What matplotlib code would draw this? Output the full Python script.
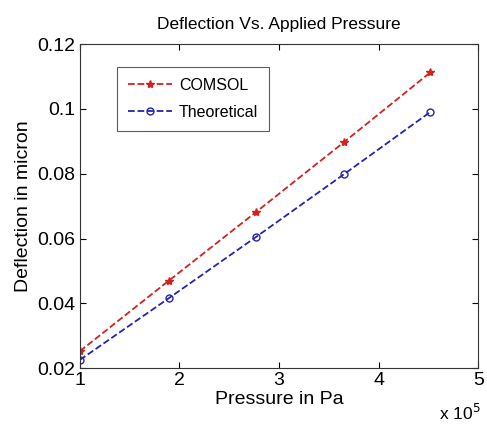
import numpy as np
import matplotlib.pyplot as plt

plt.rcParams['font.family'] = ['Liberation Sans', 'DejaVu Sans']

# pressure (x 1e5 Pa)
pressure = [1.0, 1.89, 2.77, 3.65, 4.52]
comsol = [0.0252, 0.0469, 0.0682, 0.0897, 0.1113]
theoretical = [0.0225, 0.0415, 0.0605, 0.0798, 0.0991]

fig = plt.figure(figsize=(4.87, 4.25), dpi=100)
ax = fig.add_axes([0.164, 0.134, 0.818, 0.762])

ax.plot(pressure, comsol, '--', color='#d62020', marker='*', markersize=6,
        lw=1.3, label='COMSOL')
ax.plot(pressure, theoretical, '--', color='#2424b0', marker='o', markersize=5,
        markerfacecolor='none', lw=1.3, label='Theoretical')

ax.set_xlim(1, 5)
ax.set_ylim(0.02, 0.12)
ax.set_xticks([1, 2, 3, 4, 5])
ax.set_yticks([0.02, 0.04, 0.06, 0.08, 0.1, 0.12])
ax.set_yticklabels(['0.02', '0.04', '0.06', '0.08', '0.1', '0.12'])
ax.tick_params(direction='in', top=True, right=True, labelsize=14, length=4, pad=3)
for s in ax.spines.values():
    s.set_linewidth(0.8)
    s.set_color('#333333')

ax.set_title('Deflection Vs. Applied Pressure', fontsize=12.5, pad=11)
ax.set_xlabel('Pressure in Pa', fontsize=14, labelpad=1)
ax.set_ylabel('Deflection in micron', fontsize=14, labelpad=4)
fig.text(0.902, 0.012, r'x 10$^5$', fontsize=12.5)

leg = ax.legend(loc='upper left', bbox_to_anchor=(0.072, 0.955), fontsize=11.5,
                fancybox=False, edgecolor='#333333', handlelength=2.8,
                handletextpad=0.4, borderpad=0.7, labelspacing=0.75)
leg.get_frame().set_linewidth(0.8)

plt.savefig('out.png')
